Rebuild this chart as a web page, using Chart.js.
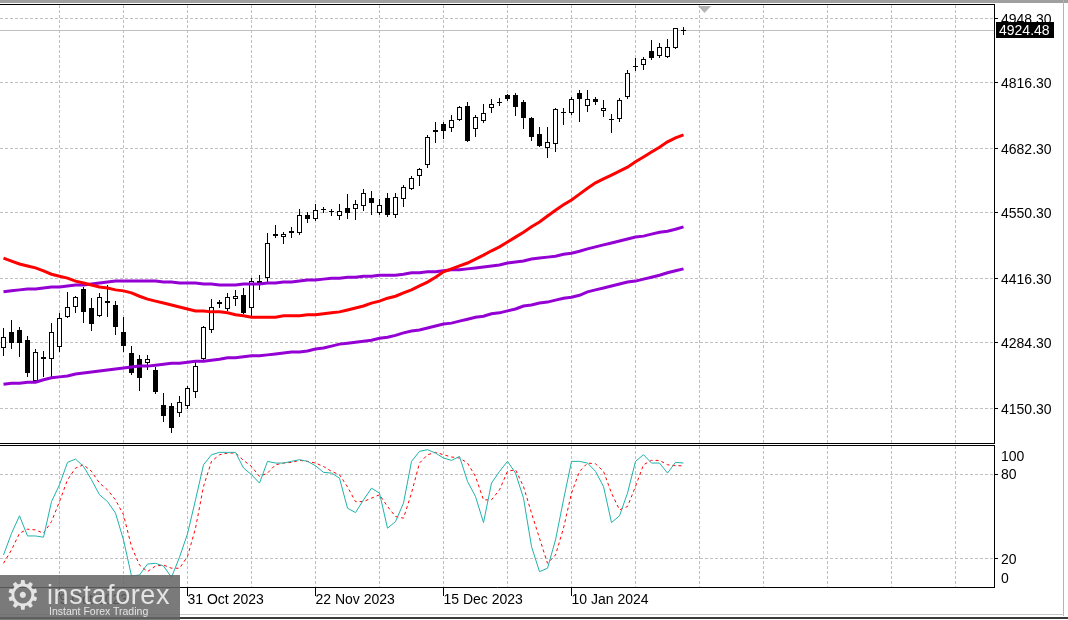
<!DOCTYPE html>
<html>
<head>
<meta charset="utf-8">
<script src="https://cdn.jsdelivr.net/npm/chart.js@4.4.1/dist/chart.umd.min.js"></script>
<style>
  html, body { margin: 0; padding: 0; background: #fff; }
  #wrap { position: relative; width: 1068px; height: 620px; overflow: hidden; font-family: "Liberation Sans", sans-serif; }
  canvas { position: absolute; left: 0; }
  #main { top: 0; }
  #stoch { top: 444px; }
  #topbar { position: absolute; left: 0; top: 0; width: 1068px; height: 3px; background: #a0a0a0; }
  #rline { position: absolute; left: 1063px; top: 0; width: 1px; height: 616px; background: #b4b4b4; }
  #bline1 { position: absolute; left: 0; top: 614px; width: 1064px; height: 1px; background: #c8c8c8; }
  #bline2 { position: absolute; left: 0; top: 617px; width: 1068px; height: 2px; background: #3a3a3a; }
  #wm { position: absolute; left: 0; top: 575px; width: 180px; height: 45px; background: rgba(100,100,100,0.86); color: #e4e4e4; }
  #wm .gear { position: absolute; left: 5px; top: -4px; font-family: "DejaVu Sans"; font-size: 40px; line-height: 48px; }
  #wm .brand { position: absolute; left: 47px; top: 7px; font-size: 27px; line-height: 27px; letter-spacing: 0.6px; }
  #wm .slogan { position: absolute; left: 49px; top: 30px; font-size: 10.5px; line-height: 12px; }
</style>
</head>
<body>
<div id="wrap">
  <canvas id="main" width="1064" height="444" style="width:1064px;height:444px"></canvas>
  <canvas id="stoch" width="1064" height="176" style="width:1064px;height:176px"></canvas>
  <div id="topbar"></div>
  <div id="rline"></div>
  <div id="bline1"></div>
  <div id="bline2"></div>
  <div id="wm"><span class="gear">⚙</span><span class="brand">instaforex</span><span class="slogan">Instant Forex Trading</span></div>
</div>
<script>
// daily candles, one per bar index 0..85
const opens = [4273.1,4305.8,4309.9,4289.4,4205.5,4250.5,4250.5,4275.1,4336.5,4356.9,
  4393.8,4354.9,4338.5,4365.1,4361.0,4305.8,4262.8,4250.5,4242.4,4228.0,
  4156.4,4154.4,4140.1,4154.4,4183.0,4250.5,4309.9,4363.1,4352.8,4373.3,
  4381.5,4354.9,4406.0,4416.3,4502.2,4500.2,4508.4,4508.4,4545.2,4537.0,
  4555.4,4551.3,4543.2,4559.5,4557.4,4563.6,4580.0,4549.3,4580.0,4545.2,
  4577.9,4598.4,4625.0,4647.5,4715.0,4731.4,4723.2,4739.6,4768.2,4721.2,
  4737.5,4764.2,4774.4,4790.7,4790.7,4776.4,4743.7,4710.9,4682.3,4690.5,
  4753.9,4753.9,4794.8,4768.2,4782.5,4758.0,4741.6,4741.6,4786.6,4848.0,
  4852.1,4880.8,4870.5,4868.5,4886.9,4921.7];
const highs = [4314.0,4330.3,4316.0,4297.6,4271.0,4266.9,4324.2,4344.7,4387.6,4379.4,
  4397.9,4375.4,4385.6,4401.9,4369.2,4336.5,4277.1,4258.7,4258.7,4234.2,
  4181.0,4160.5,4174.8,4195.3,4244.4,4318.1,4373.3,4371.3,4385.6,4391.7,
  4395.8,4416.3,4422.4,4508.4,4524.7,4510.4,4520.6,4557.4,4551.3,4567.7,
  4561.5,4557.4,4567.7,4588.2,4575.9,4598.4,4594.3,4577.9,4590.2,4590.2,
  4606.6,4625.0,4641.4,4708.9,4735.5,4735.5,4749.8,4768.3,4776.4,4749.8,
  4772.3,4782.5,4784.6,4792.8,4794.8,4780.5,4745.7,4725.3,4725.3,4764.2,
  4764.2,4786.6,4800.9,4800.9,4786.6,4780.5,4751.9,4784.6,4842.1,4866.5,
  4868.5,4903.3,4897.1,4905.3,4927.8,4929.9];
const lows = [4256.7,4271.0,4254.6,4213.7,4203.5,4213.7,4213.7,4264.8,4334.4,4344.7,
  4324.2,4307.8,4336.5,4336.5,4299.7,4264.8,4217.8,4185.1,4228.0,4178.9,
  4121.6,4099.1,4131.8,4148.2,4170.7,4248.5,4303.7,4354.9,4348.7,4359.0,
  4342.6,4334.4,4391.7,4408.1,4498.1,4485.9,4498.1,4504.3,4528.8,4532.9,
  4549.3,4543.2,4534.9,4537.0,4534.9,4553.4,4545.2,4545.2,4541.1,4539.0,
  4561.5,4596.3,4604.5,4641.4,4692.5,4700.7,4715.0,4737.6,4694.5,4704.8,
  4733.4,4753.9,4768.2,4778.5,4747.8,4721.2,4696.6,4684.3,4661.8,4674.1,
  4729.4,4749.8,4735.5,4755.9,4770.3,4745.7,4713.0,4735.5,4782.5,4839.9,
  4842.1,4862.4,4866.5,4866.5,4884.9,4913.5];
const closes = [4295.6,4283.3,4283.3,4221.9,4264.8,4254.6,4305.8,4334.4,4356.9,4377.4,
  4346.7,4322.2,4377.4,4369.2,4316.0,4277.1,4221.9,4211.7,4250.5,4183.0,
  4133.9,4109.3,4162.6,4191.2,4236.2,4316.0,4356.9,4367.2,4377.4,4379.4,
  4344.7,4410.1,4410.1,4487.9,4506.3,4506.3,4512.5,4545.2,4537.0,4555.4,
  4557.4,4553.4,4553.4,4549.3,4567.7,4590.2,4569.7,4565.6,4545.2,4582.0,
  4602.5,4620.9,4639.3,4704.8,4719.1,4717.1,4739.6,4766.2,4696.6,4745.7,
  4753.9,4772.3,4776.4,4782.5,4766.2,4743.7,4704.8,4686.4,4694.6,4762.1,
  4755.9,4782.5,4782.5,4782.5,4776.4,4764.2,4739.6,4780.5,4836.0,4850.1,
  4864.4,4866.5,4889.0,4889.0,4927.8,4924.48];

// moving averages (red = fast, violet = slower / slowest)
const maRed = [4457,4451,4445,4441,4437,4431,4424,4420,4416,4410,
  4406,4402,4398,4396,4392,4390,4386,4379,4373,4369,
  4365,4361,4357,4353,4349,4349,4347,4347,4345,4341,
  4339,4336,4336,4336,4336,4339,4339,4339,4341,4341,
  4343,4345,4347,4351,4355,4359,4365,4369,4375,4379,
  4386,4392,4400,4408,4418,4429,4435,4441,4447,4455,
  4463,4472,4480,4490,4500,4510,4521,4531,4543,4555,
  4566,4576,4588,4600,4611,4619,4627,4635,4643,4654,
  4664,4674,4684,4695,4703,4709];
const maVioletA = [4388,4390,4392,4394,4394,4396,4398,4398,4400,4402,
  4402,4404,4406,4408,4410,4410,4410,4410,4410,4410,
  4408,4408,4406,4406,4406,4404,4404,4402,4402,4402,
  4404,4404,4404,4406,4406,4408,4408,4410,4412,4412,
  4414,4416,4416,4418,4418,4420,4420,4422,4422,4422,
  4424,4427,4427,4429,4429,4431,4433,4433,4435,4437,
  4439,4441,4443,4447,4449,4451,4455,4457,4459,4461,
  4465,4467,4471,4476,4480,4484,4488,4492,4496,4500,
  4502,4506,4510,4512,4516,4521];
const maVioletB = [4199,4201,4201,4203,4203,4208,4212,4214,4216,4220,
  4222,4224,4226,4228,4230,4232,4234,4236,4236,4238,
  4240,4242,4242,4244,4246,4246,4248,4250,4253,4253,
  4255,4257,4257,4259,4261,4263,4265,4265,4267,4271,
  4273,4277,4281,4283,4285,4287,4289,4293,4295,4299,
  4304,4308,4310,4314,4318,4322,4324,4328,4332,4336,
  4338,4343,4345,4349,4353,4359,4361,4365,4367,4371,
  4375,4377,4381,4388,4392,4396,4400,4404,4408,4410,
  4414,4418,4422,4427,4431,4435];

// stochastic %K and %D
const stochK = [22.7,38,50.5,36.2,36.2,35.3,60.6,72.5,88.4,90.7,
  85.5,76.0,65.4,60.6,52.4,33.4,7.8,8.5,16.3,16.8,
  14.9,6.9,21.1,37.7,61.8,86.7,93.8,95.5,95.5,95.5,
  84.4,79.6,73.7,89.1,87.9,87.9,89.1,90.3,89.1,86.0,
  81.3,80.8,77.2,55.9,52.8,61.8,70.1,66.6,41.7,46.4,
  59.5,89.1,96.2,97.4,95.0,91.5,89.8,92.6,74.9,64.2,
  45.7,73.7,82.0,89.1,80.8,63.0,28.7,10.9,13.3,33.4,
  61.8,89.1,89.1,87.9,82.0,71.3,45.7,50.5,66.6,89.1,
  93.8,87.9,87.9,80.8,88.4,87.9];
const stochD = [16.8,26.3,38.1,41.0,40.5,38.1,46.4,60.6,76.0,84.3,
  86.7,82.0,73.7,68.9,61.8,51.2,28.7,15.6,10.9,14.9,
  15.6,13.3,13.3,21.6,41.7,71.3,89.1,93.8,95.0,95.0,
  89.8,85.5,78.4,80.8,86.7,87.9,88.4,89.8,89.1,87.9,
  85.5,82.0,79.6,71.0,60.5,60.6,63.0,65.4,57.1,50.0,
  48.8,66.6,87.9,93.8,95.5,93.8,92.2,91.5,87.9,78.4,
  61.8,61.8,68.9,82.0,83.2,71.3,52.4,34.6,16.8,22.7,
  41.7,66.6,82.0,87.9,87.4,82.0,66.6,54.7,57.1,71.3,
  86.7,89.8,89.8,86.7,86.0,86.0];

const priceTicks = [4150.3, 4284.3, 4416.3, 4550.3, 4682.3, 4816.3, 4948.3];
const stochLevels = [0, 20, 80, 100];
const gridIdx = [7, 15, 23, 31, 39, 47, 55, 63, 71, 79, 87, 95, 103, 111, 119];
const dateTickIdx = [7, 23, 39, 55, 71];
const dateTickLabels = ['9 Oct 2023', '31 Oct 2023', '22 Nov 2023', '15 Dec 2023', '10 Jan 2024'];
const lastPrice = 4924.48;
const shiftMarkIdx = 87.6;

const xMin = -0.4375, xMax = 123.8125;
const priceMin = 4078.7, priceMax = 4974.9;
const gridColor = '#c0c0c0';

Chart.defaults.font.family = 'Liberation Sans';
Chart.defaults.font.size = 14;
Chart.defaults.color = '#000';

const pts = arr => arr.map((v, i) => ({x: i, y: v}));
const noPad = s => { s.paddingTop = 0; s.paddingBottom = 0; s.paddingLeft = 0; s.paddingRight = 0; };

const paneFrame = {
  id: 'paneFrame',
  afterDraw(chart) {
    const {ctx, chartArea: a} = chart;
    ctx.save();
    ctx.fillStyle = '#000';
    ctx.fillRect(0, a.top - 1, a.right + 1, 1);
    ctx.restore();
  }
};

const priceMark = {
  id: 'priceMark',
  beforeDatasetsDraw(chart) {
    const {ctx, chartArea: a, scales: {y}} = chart;
    const py = Math.round(y.getPixelForValue(lastPrice)) + 0.5;
    ctx.save();
    ctx.strokeStyle = gridColor;
    ctx.lineWidth = 1;
    ctx.beginPath();
    ctx.moveTo(a.left, py);
    ctx.lineTo(a.right, py);
    ctx.stroke();
    ctx.restore();
  },
  afterDraw(chart) {
    const {ctx, chartArea: a, scales: {x, y}} = chart;
    const py = Math.round(y.getPixelForValue(lastPrice));
    ctx.save();
    ctx.fillStyle = '#000';
    ctx.fillRect(y.left + 2, py - 8, 58, 16);
    ctx.fillStyle = '#fff';
    ctx.font = '14px "Liberation Sans"';
    ctx.textBaseline = 'middle';
    ctx.fillText(lastPrice.toFixed(2), y.left + 5, py + 1);
    // chart shift marker
    const cx = Math.round(x.getPixelForValue(shiftMarkIdx));
    ctx.fillStyle = '#b4b4b4';
    ctx.beginPath();
    ctx.moveTo(cx - 6, a.top + 1);
    ctx.lineTo(cx + 7, a.top + 1);
    ctx.lineTo(cx + 0.5, a.top + 8);
    ctx.closePath();
    ctx.fill();
    ctx.restore();
  }
};

const yAxisCommon = {
  position: 'right',
  afterFit: s => { s.width = 70; noPad(s); },
  border: {display: true, color: '#000', width: 1, dash: [3, 2]},
};

new Chart(document.getElementById('main'), {
  type: 'bar',
  data: {
    datasets: [
      {type: 'line', data: pts(maRed), borderColor: '#ff0000', borderWidth: 3, pointRadius: 0, tension: 0, order: 0},
      {type: 'line', data: pts(maVioletA), borderColor: '#9400d3', borderWidth: 3, pointRadius: 0, tension: 0, order: 0},
      {type: 'line', data: pts(maVioletB), borderColor: '#9400d3', borderWidth: 3, pointRadius: 0, tension: 0, order: 0},
      {
        data: opens.map((o, i) => ({x: i, y: [o, closes[i]]})),
        backgroundColor: c => closes[c.dataIndex] >= opens[c.dataIndex] ? '#ffffff' : '#000000',
        borderColor: '#000', borderWidth: 1, borderSkipped: false,
        barThickness: 5, grouped: false, inflateAmount: 0, minBarLength: 1, order: 1
      },
      {
        data: lows.map((l, i) => ({x: i, y: [l, highs[i]]})),
        backgroundColor: '#000', borderWidth: 0,
        barThickness: 1, grouped: false, inflateAmount: 0, order: 2
      }
    ]
  },
  options: {
    responsive: false, animation: false, events: [],
    layout: {autoPadding: false, padding: {left: 0, right: 0, top: 5, bottom: 1}},
    plugins: {legend: {display: false}, tooltip: {enabled: false}},
    scales: {
      x: {
        type: 'linear', min: xMin, max: xMax, offset: false,
        afterBuildTicks: s => { s.ticks = gridIdx.map(v => ({value: v})); },
        afterFit: s => { s.height = 0; noPad(s); },
        ticks: {display: false},
        grid: {color: gridColor, drawTicks: false, offset: false},
        border: {display: true, color: '#000', dash: [3, 2]}
      },
      y: {
        ...yAxisCommon,
        min: priceMin, max: priceMax,
        afterBuildTicks: s => { s.ticks = priceTicks.map(v => ({value: v})); },
        ticks: {padding: 3, labelOffset: 2, color: '#000', callback: v => v.toFixed(2)},
        grid: {color: gridColor, tickColor: '#000', tickLength: 4}
      }
    }
  },
  plugins: [priceMark, paneFrame]
});

new Chart(document.getElementById('stoch'), {
  type: 'line',
  data: {
    datasets: [
      {data: pts(stochK), borderColor: '#20b2aa', borderWidth: 1, pointRadius: 0, tension: 0},
      {data: pts(stochD), borderColor: '#ff0000', borderWidth: 1, borderDash: [3, 3], pointRadius: 0, tension: 0}
    ]
  },
  options: {
    responsive: false, animation: false, events: [],
    layout: {autoPadding: false, padding: {left: 0, right: 0, top: 2, bottom: 5}},
    plugins: {legend: {display: false}, tooltip: {enabled: false}},
    scales: {
      x: {
        type: 'linear', min: xMin, max: xMax, offset: false,
        afterBuildTicks: s => { s.ticks = gridIdx.map(v => ({value: v})); },
        afterFit: s => { s.height = 28; noPad(s); },
        ticks: {
          align: 'start', maxRotation: 0, autoSkip: false, padding: -4, color: '#000',
          callback: v => { const j = dateTickIdx.indexOf(v); return j >= 0 ? dateTickLabels[j] : ''; }
        },
        grid: {
          color: gridColor, tickLength: 9, offset: false,
          tickColor: c => (c.tick && dateTickIdx.includes(c.tick.value)) ? '#000' : 'rgba(0,0,0,0)'
        },
        border: {display: true, color: '#000', dash: [3, 2]}
      },
      y: {
        ...yAxisCommon,
        min: 0, max: 100,
        // 0 and 100 labels are kept inside the pane, as the terminal does
        afterBuildTicks: s => { s.ticks = stochLevels.map(v => ({value: Math.min(93, Math.max(6.5, v))})); },
        ticks: {padding: 3, labelOffset: 1, color: '#000', callback: (v, i) => String(stochLevels[i])},
        grid: {
          tickLength: 4,
          color: c => (c.index === 1 || c.index === 2) ? gridColor : 'rgba(0,0,0,0)',
          tickColor: c => (c.index === 1 || c.index === 2) ? '#000' : 'rgba(0,0,0,0)'
        }
      }
    }
  },
  plugins: [paneFrame]
});
</script>
</body>
</html>
